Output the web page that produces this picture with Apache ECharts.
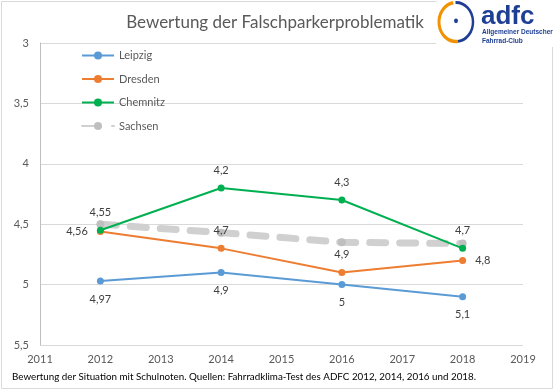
<!DOCTYPE html>
<html><head><meta charset="utf-8">
<script src="https://cdn.jsdelivr.net/npm/echarts@6/dist/echarts.min.js"></script>
<style>html,body{margin:0;padding:0;background:#fff}#c{width:555px;height:391px}</style>
</head><body><div id="c"></div>
<script>
const years = [2012, 2014, 2016, 2018];
const leipzig = [4.97, 4.9, 5.0, 5.1];
const dresden = [4.56, 4.7, 4.9, 4.8];
const chemnitz = [4.55, 4.2, 4.3, 4.7];
const sachsen = [4.5, 4.57, 4.65, 4.66];
const dresdenLabelPos = ['left', 'top', 'top', 'right'];

const fmt = v => String(v).replace('.', ',');
const font = 'Lato, "Open Sans", sans-serif';
const pts = arr => years.map((y, i) => [y, arr[i]]);

const chart = echarts.init(document.getElementById('c'));
chart.setOption({
  animation: false,
  textStyle: { fontFamily: font },
  grid: { left: 40, right: 32, top: 43, bottom: 46 },
  legend: {
    orient: 'vertical', left: 76, top: 45, itemGap: 12.5, itemWidth: 32, itemHeight: 10,
    textStyle: { color: '#595959', fontSize: 11, fontFamily: font },
    data: ['Leipzig', 'Dresden', 'Chemnitz', 'Sachsen']
  },
  xAxis: {
    type: 'value', min: 2011, max: 2019, interval: 1,
    axisLine: { show: false }, axisTick: { show: false }, splitLine: { show: false },
    axisLabel: { color: '#595959', fontSize: 11, margin: 9, formatter: v => String(v) }
  },
  yAxis: {
    type: 'value', inverse: true, min: 3, max: 5.5, interval: 0.5,
    axisLine: { show: true, lineStyle: { color: '#bfbfbf', width: 1 } },
    axisTick: { show: false },
    splitLine: { lineStyle: { color: '#d9d9d9', width: 1 } },
    axisLabel: { color: '#595959', fontSize: 11, margin: 11, formatter: v => fmt(v) }
  },
  series: [
    {
      name: 'Sachsen', type: 'line', data: pts(sachsen), z: 1,
      symbol: 'circle', symbolSize: 8,
      itemStyle: { color: '#bfbfbf' },
      lineStyle: { color: '#d0d0d0', width: 7, type: [16, 14], cap: 'round' },
      label: { show: false }
    },
    {
      name: 'Leipzig', type: 'line', data: pts(leipzig), z: 3,
      symbol: 'circle', symbolSize: 7,
      itemStyle: { color: '#5b9bd5' }, lineStyle: { color: '#5b9bd5', width: 2 },
      label: { show: true, position: 'bottom', distance: 9, color: '#404040', fontSize: 11, formatter: p => fmt(p.value[1]) }
    },
    {
      name: 'Dresden', type: 'line', z: 3,
      data: pts(dresden).map((d, i) => ({ value: d, label: { position: dresdenLabelPos[i] } })),
      symbol: 'circle', symbolSize: 7,
      itemStyle: { color: '#ed7d31' }, lineStyle: { color: '#ed7d31', width: 2 },
      label: { show: true, distance: 9, color: '#404040', fontSize: 11, formatter: p => fmt(p.value[1]) }
    },
    {
      name: 'Chemnitz', type: 'line', data: pts(chemnitz), z: 4,
      symbol: 'circle', symbolSize: 7,
      itemStyle: { color: '#00b050' }, lineStyle: { color: '#00b050', width: 2 },
      label: { show: true, position: 'top', distance: 9, color: '#404040', fontSize: 11, formatter: p => fmt(p.value[1]) }
    }
  ],
  graphic: [
    { type: 'rect', shape: { x: 1.5, y: 1.5, width: 551, height: 387 }, style: { fill: 'none', stroke: '#d9d9d9', lineWidth: 1 }, z: -10 },
    { type: 'text', x: 275, y: 23, style: { text: 'Bewertung der Falschparkerproblematik', align: 'center', verticalAlign: 'middle', fontSize: 17, fill: '#595959', fontFamily: font } },
    { type: 'rect', shape: { x: 436, y: 0, width: 119, height: 47 }, style: { fill: '#fff' }, z: 10 },
    { type: 'group', x: 456, y: 22, scaleY: 1.15, z: 11, children: [
      { type: 'arc', shape: { cx: 0, cy: 0, r: 17, startAngle: 1.45, endAngle: 4.55, clockwise: true }, style: { stroke: '#f39200', lineWidth: 3, fill: 'none' }, z: 11 },
      { type: 'arc', shape: { cx: 0, cy: 0, r: 17, startAngle: -1.6, endAngle: 1.45, clockwise: true }, style: { stroke: '#1f3f94', lineWidth: 2.5, fill: 'none' }, z: 11 },
      { type: 'circle', shape: { cx: 0, cy: -1, r: 2 }, style: { fill: '#1f3f94' }, z: 11 }
    ] },
    { type: 'text', x: 481, y: 4, style: { text: 'adfc', fontSize: 26, fontWeight: 'bold', fill: '#1f3f94', fontFamily: '"Liberation Sans", Arial, sans-serif' }, z: 11 },
    { type: 'text', x: 482, y: 29, style: { text: 'Allgemeiner Deutscher', fontSize: 6.5, fontWeight: 'bold', fill: '#1f3f94', fontFamily: '"Liberation Sans Narrow", "Liberation Sans", sans-serif' }, z: 11 },
    { type: 'text', x: 482, y: 38, style: { text: 'Fahrrad-Club', fontSize: 6.5, fontWeight: 'bold', fill: '#1f3f94', fontFamily: '"Liberation Sans Narrow", "Liberation Sans", sans-serif' }, z: 11 },
    { type: 'text', x: 12, y: 372, style: { text: 'Bewertung der Situation mit Schulnoten. Quellen: Fahrradklima-Test des ADFC 2012, 2014, 2016 und 2018.', fontSize: 9.8, fill: '#000', fontFamily: font } }
  ]
});
</script></body></html>
